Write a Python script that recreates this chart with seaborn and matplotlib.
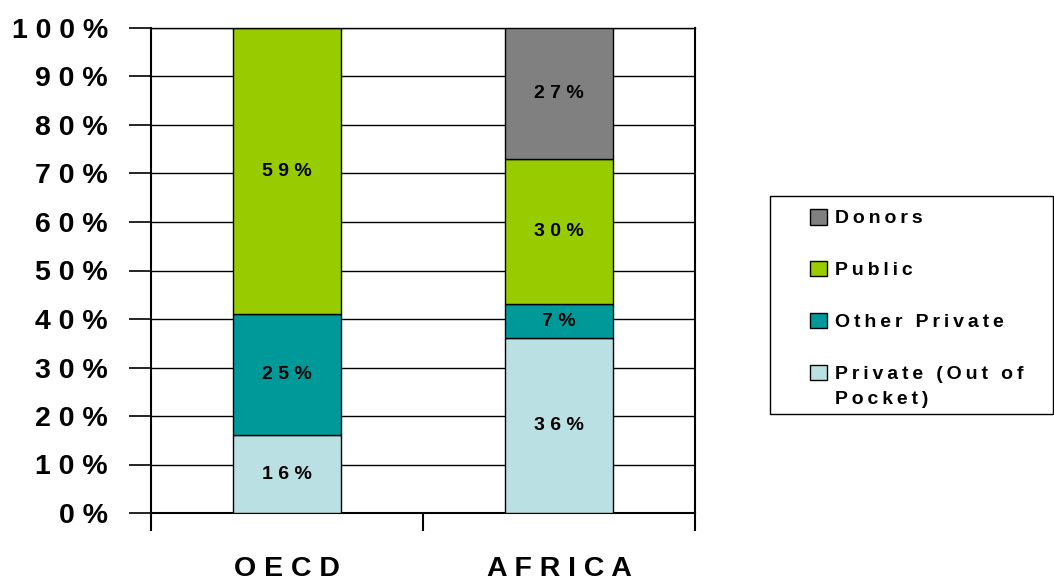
import matplotlib
matplotlib.use("Agg")
import matplotlib.pyplot as plt
import seaborn as sns
import pandas as pd
import numpy as np
from matplotlib.patches import Patch, Rectangle

categories = ["OECD", "AFRICA"]
series = ["Private (Out of Pocket)", "Other Private", "Public", "Donors"]
private_oop = [16, 36]
other_private = [25, 7]
public = [59, 30]
donors = [0, 27]
colors = ["#BBE0E3", "#009999", "#99CC00", "#808080"]
yticks = [0, 10, 20, 30, 40, 50, 60, 70, 80, 90, 100]

sns.set_theme(style="white")
plt.rcParams['font.family'] = ['Liberation Sans', 'DejaVu Sans']

def sp(s, sep=" "):
    return sep.join(list(s))

values = [private_oop, other_private, public, donors]
df = pd.DataFrame({"cat": np.repeat(categories, len(series)),
                   "series": series * len(categories),
                   "val": [values[j][i] for i in range(len(categories)) for j in range(len(series))]})

W, H = 1054, 581
fig = plt.figure(figsize=(W / 100, H / 100), dpi=100)
ax = fig.add_axes([151/W, (H-513)/H, (695-151)/W, (513-28)/H])

bottom = np.zeros(len(categories))
for j, s in enumerate(series):
    sub = df[df.series == s]
    vals = sub["val"].to_numpy()
    sns.barplot(x=sub["cat"], y=vals, bottom=bottom, color=colors[j], width=0.4,
                saturation=1, edgecolor="black", linewidth=1.0, ax=ax,
                order=categories, zorder=3)
    for i, v in enumerate(vals):
        if v > 0:
            ax.text(i, bottom[i] + v / 2, sp(f"{v}%"), ha="center", va="center",
                    fontsize=14, fontweight="bold", color="black", zorder=4)
    bottom += vals

ax.set_xlim(-0.5, 1.5)
ax.set_ylim(0, 100)
ax.set_yticks(yticks)
ax.set_yticklabels([sp(f"{t}%") for t in yticks], fontsize=20.5, fontweight="bold")
ax.set_xticks([0, 1])
ax.set_xticklabels([sp(c) for c in categories], fontsize=20.5, fontweight="bold")
ax.set_xticks([-0.5, 0.5, 1.5], minor=True)
ax.tick_params(axis="x", which="major", bottom=True, length=0, pad=31, colors="black")
ax.tick_params(axis="x", which="minor", bottom=True, length=13, width=1.5, direction="out", color="black")
ax.tick_params(axis="y", left=True, length=16, width=1.2, direction="out", color="black",
               pad=15, labelcolor="black")
ax.set_xlabel("")
ax.set_ylabel("")
ax.grid(axis="y", color="black", linewidth=1.0, zorder=0)
ax.grid(axis="x", visible=False)
for s in ax.spines.values():
    s.set_visible(True)
    s.set_color("black")
    s.set_linewidth(1.5)
ax.spines["top"].set_linewidth(1.0)

# legend (top row first); the long label wraps onto a second line
TS = "\u2009"
leg_labels = [sp("Donors", TS), sp("Public", TS), sp("Other Private", TS), sp("Private (Out of", TS)]
handles = [Patch(facecolor=colors[j], edgecolor="black", label=lab)
           for j, lab in zip([3, 2, 1, 0], leg_labels)]
leg = fig.legend(handles=handles, loc="upper left", bbox_to_anchor=(810/W, 1 - 209/H),
                 frameon=False, prop={"weight": "bold", "size": 14},
                 handlelength=0.85, handleheight=0.85, handletextpad=0.45,
                 labelspacing=1.72, borderpad=0, borderaxespad=0)
for t in leg.get_texts():
    t.set_color("black")

fig.canvas.draw()
inv = fig.transFigure.inverted()
last = leg.get_texts()[-1].get_window_extent()
x0, y0 = inv.transform((last.x0, last.y0))
fig.text(x0, y0 - 8/H, sp("Pocket)", TS), ha="left", va="top", fontsize=14,
         fontweight="bold", color="black")
fig.patches.append(Rectangle((770/W, 1 - 414/H), (1053-770)/W, (414-196)/H,
                             transform=fig.transFigure, facecolor="none",
                             edgecolor="black", linewidth=1.0))

fig.savefig("out.png", dpi=100)
